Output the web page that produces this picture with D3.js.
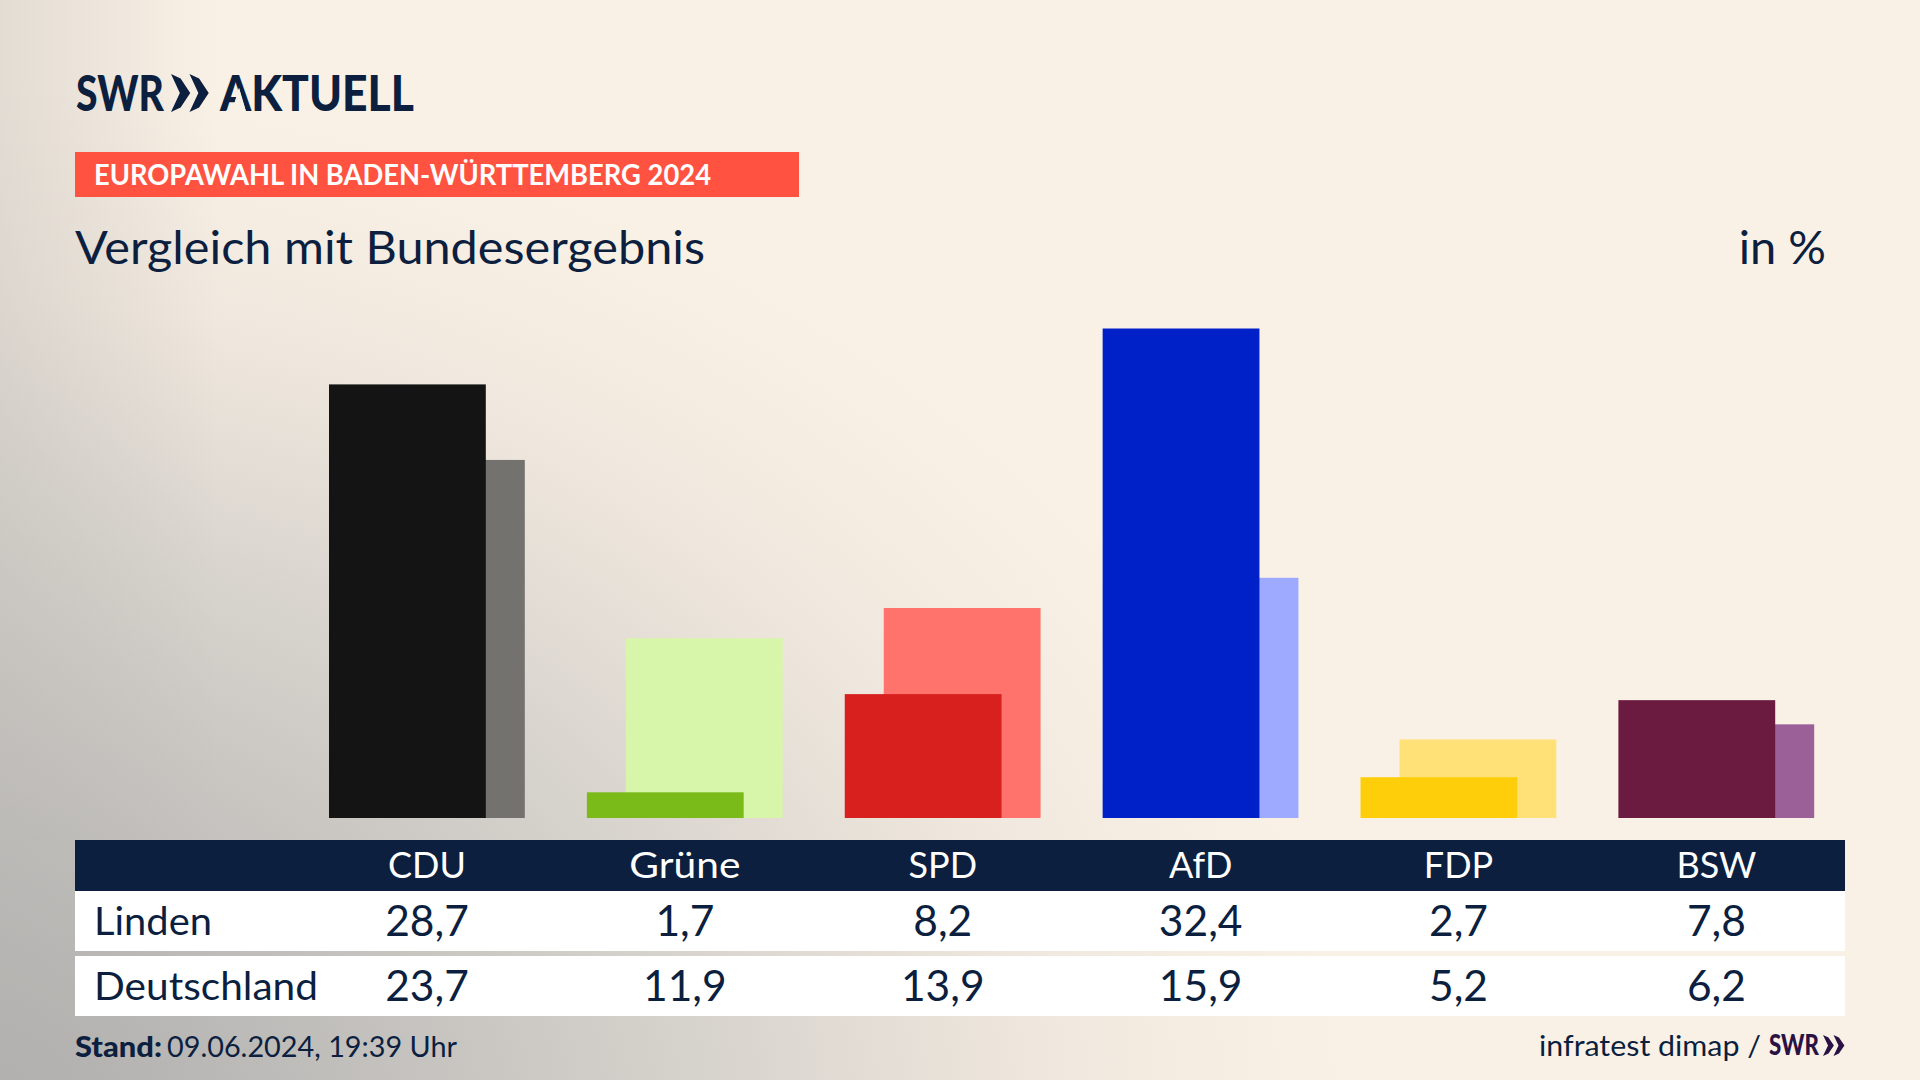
<!DOCTYPE html>
<html lang="de"><head><meta charset="utf-8"><title>Europawahl</title>
<script src="https://cdn.jsdelivr.net/npm/d3@7"></script>
<style>html,body{margin:0;padding:0;background:#faf1e6;overflow:hidden}svg{display:block}text{font-family:Lato,"Noto Sans",sans-serif}</style>
</head><body><svg id="c" width="1920" height="1080" viewBox="0 0 1920 1080"></svg>
<script>
const parties=["CDU","Grüne","SPD","AfD","FDP","BSW"];
const linden=[28.7,1.7,8.2,32.4,2.7,7.8];
const deutschland=[23.7,11.9,13.9,15.9,5.2,6.2];
const lindenLabels=["28,7","1,7","8,2","32,4","2,7","7,8"];
const deutschlandLabels=["23,7","11,9","13,9","15,9","5,2","6,2"];
const lindenColors=["#141414","#7abb1a","#d8201f","#0020c8","#ffce0a","#6b1a40"];
const deutschlandColors=["#73726f","#d8f6aa","#ff736c","#9eaaff","#ffe177","#9c6098"];
const rowNames=["Linden","Deutschland"];
const NAVY="#0c1f3f";
const svg=d3.select("#c");
const defs=svg.append("defs");
const g1=defs.append("radialGradient").attr("id","bg").attr("gradientUnits","userSpaceOnUse")
 .attr("cx",0).attr("cy",0).attr("r",1).attr("gradientTransform","translate(-100,1130) scale(1450,1050)");
[[0,"#aaa9a8"],[.3,"#c0bebb"],[.55,"#d6d2cc"],[.8,"#f0e8de"],[1,"#faf1e6"]].forEach(d=>g1.append("stop").attr("offset",d[0]).attr("stop-color",d[1]));
const g2=defs.append("linearGradient").attr("id","edge").attr("gradientUnits","userSpaceOnUse").attr("x1",0).attr("x2",220).attr("y1",0).attr("y2",0);
[[0,"#b6b4b0",.34],[1,"#b6b4b0",0]].forEach(d=>g2.append("stop").attr("offset",d[0]).attr("stop-color",d[1]).attr("stop-opacity",d[2]));
const paintBg=sel=>{sel.attr("fill","#faf1e6");};
svg.append("rect").attr("width",1920).attr("height",1080).call(paintBg);
svg.append("rect").attr("width",1920).attr("height",1080).attr("fill","url(#bg)");
svg.append("rect").attr("width",1920).attr("height",1080).attr("fill","url(#edge)");

const T=(x,y,s,size,opt={})=>svg.append("text").attr("x",x).attr("y",y).text(s)
 .attr("font-size",size).attr("fill",opt.fill||NAVY).attr("font-weight",opt.w||400)
 .attr("text-anchor",opt.a||"start")
 .call(t=>{if(opt.len)t.attr("textLength",opt.len).attr("lengthAdjust","spacingAndGlyphs")});
const pts=a=>a.map(p=>p.join(",")).join(" ");
const chevrons=(x,y,h,w,fill)=>{[0,.5].forEach(o=>{const X=x+o*w,b=w*.52;
 svg.append("polygon").attr("fill",fill).attr("points",pts([[X,y],[X+b*.5,y+h*.12],[X+b,y+h/2],[X+b*.5,y+h*.88],[X,y+h],[X+b*.46,y+h/2]]));});};

// logo
T(76,111,"SWR",50,{w:900,len:88});
chevrons(171,74,38,37,NAVY);
T(220,111,"AKTUELL",50,{w:900,len:194});
// open the A of the wordmark into the logo's bar-less form
["#faf1e6","url(#bg)","url(#edge)"].forEach(f=>svg.append("polygon").attr("fill",f).attr("points",pts([[239,88],[232,111.5],[246,111.5]])));
// band
svg.append("rect").attr("x",75).attr("y",152).attr("width",724).attr("height",45).attr("fill","#ff5240");
T(94,185,"EUROPAWAHL IN BADEN-WÜRTTEMBERG 2024",28,{fill:"#fff",w:700,len:617});
T(75,264,"Vergleich mit Bundesergebnis",46,{len:630});
T(1826,264,"in %",47,{a:"end"});

// scales
const x=d3.scalePoint().domain(parties).range([426,1715.4]);
const y=d3.scaleLinear().domain([0,32.4]).range([818,328.5]);
const bw=156.8,off=[-97,-58];
const rows=parties.map((p,i)=>({p,l:linden[i],d:deutschland[i],lc:lindenColors[i],dc:deutschlandColors[i]}));
svg.append("g").selectAll("rect").data(rows).join("rect")
 .attr("x",d=>x(d.p)+off[1]).attr("width",bw).attr("y",d=>y(d.d)).attr("height",d=>y(0)-y(d.d)).attr("fill",d=>d.dc);
svg.append("g").selectAll("rect").data(rows).join("rect")
 .attr("x",d=>x(d.p)+off[0]).attr("width",bw).attr("y",d=>y(d.l)).attr("height",d=>y(0)-y(d.l)).attr("fill",d=>d.lc);

// table
svg.append("rect").attr("x",75).attr("y",840).attr("width",1770).attr("height",51).attr("fill",NAVY);
svg.append("rect").attr("x",75).attr("y",891).attr("width",1770).attr("height",60).attr("fill","#fff");
svg.append("rect").attr("x",75).attr("y",956).attr("width",1770).attr("height",60).attr("fill","#fff");
parties.forEach((p,i)=>{
 T(x(p)+1,878,p,36,{fill:"#fff",a:"middle",len:p==="Grüne"?111:null});
 T(x(p)+1,936,lindenLabels[i],42.5,{a:"middle"});
 T(x(p)+1,1001,deutschlandLabels[i],42.5,{a:"middle"});
});
T(94,935,rowNames[0],38,{len:118});
T(94,1000,rowNames[1],38,{len:224});

// footer
T(75,1057,"Stand:",29,{w:900,len:87});
T(167,1057,"09.06.2024, 19:39 Uhr",28,{len:290});
T(1539,1056,"infratest dimap /",29,{len:222});
T(1769,1055,"SWR",28,{w:900,fill:"#2a1245",len:50});
chevrons(1823,1035,21,21,"#2a1245");
</script></body></html>
